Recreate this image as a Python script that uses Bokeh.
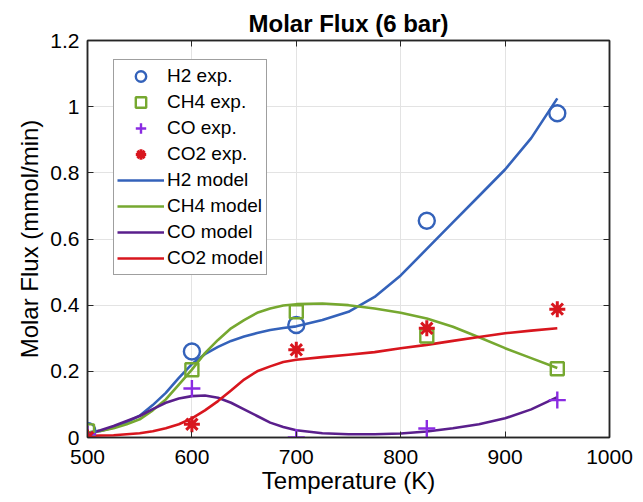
from bokeh.plotting import figure
from bokeh.models import LinearAxis, FixedTicker, CustomJSTickFormatter, Legend, LegendItem, Range1d
from bokeh.embed import file_html
from bokeh.resources import INLINE

# ---- data ----
T_exp = [500, 600, 700, 825, 950]
H2_exp = [0.02, 0.26, 0.34, 0.655, 0.98]
CH4_exp = [0.02, 0.205, 0.38, 0.307, 0.208]
CO_exp = [0.01, 0.148, 0.0, 0.027, 0.113]
CO2_exp = [0.0, 0.04, 0.265, 0.33, 0.388]

T_model = [500, 512.5, 525, 537.5, 550, 562.5, 575, 587.5, 600, 612.5, 625, 637.5, 650, 662.5,
           675, 687.5, 700, 725, 750, 775, 800, 825, 850, 875, 900, 925, 950]
H2_model = [0.015, 0.02, 0.03, 0.046, 0.066, 0.098, 0.135, 0.18, 0.222, 0.252, 0.274, 0.292, 0.305, 0.316,
            0.325, 0.331, 0.336, 0.355, 0.38, 0.425, 0.49, 0.57, 0.65, 0.73, 0.81, 0.905, 1.025]
CH4_model = [0.015, 0.02, 0.028, 0.04, 0.055, 0.082, 0.115, 0.16, 0.205, 0.255, 0.295, 0.33, 0.355, 0.377,
             0.39, 0.399, 0.403, 0.405, 0.4, 0.39, 0.377, 0.36, 0.335, 0.303, 0.27, 0.24, 0.21]
CO_model = [0.01, 0.022, 0.035, 0.05, 0.065, 0.086, 0.105, 0.118, 0.125, 0.127, 0.12, 0.105, 0.085, 0.065,
            0.045, 0.032, 0.022, 0.013, 0.01, 0.01, 0.012, 0.018, 0.028, 0.04, 0.058, 0.085, 0.122]
CO2_model = [0.005, 0.006, 0.007, 0.01, 0.013, 0.019, 0.028, 0.04, 0.058, 0.082, 0.11, 0.142, 0.175, 0.2,
             0.215, 0.228, 0.235, 0.243, 0.25, 0.258, 0.27, 0.28, 0.292, 0.304, 0.315, 0.323, 0.33]

x_ticks = [500, 600, 700, 800, 900, 1000]
y_ticks = [0, 0.2, 0.4, 0.6, 0.8, 1.0, 1.2]

BLUE = "#3462BA"
GREEN = "#76A830"
VIOLET = "#8A2BE2"
PURPLE = "#5A1F8C"
RED = "#D8161E"
FONT = "Liberation Sans"
AXC = "#262626"

p = figure(width=643, height=502, output_backend="svg", toolbar_location=None,
           x_range=Range1d(500, 1000), y_range=Range1d(0, 1.2),
           min_border_left=87, min_border_right=34, min_border_top=40, min_border_bottom=65,
           title="Molar Flux (6 bar)")
p.background_fill_color = "white"
p.border_fill_color = "white"
p.outline_line_color = AXC
p.outline_line_width = 1.5

p.title.align = "center"
p.title.text_font = FONT
p.title.text_font_size = "24px"
p.title.text_font_style = "bold"
p.title.text_color = "black"
p.title.standoff = 8

fmt = CustomJSTickFormatter(code="return String(Math.round(tick*10)/10);")
blank = CustomJSTickFormatter(code="return '';")

for ax in p.xaxis + p.yaxis:
    ax.major_label_text_font = FONT
    ax.major_label_text_font_size = "21px"
    ax.major_label_text_color = "black"
    ax.axis_label_text_font = FONT
    ax.axis_label_text_font_size = "24px"
    ax.axis_label_text_font_style = "normal"
    ax.axis_label_text_color = "black"
    ax.major_tick_in = 6
    ax.major_tick_out = 0
    ax.minor_tick_in = 0
    ax.minor_tick_out = 0
    ax.axis_line_color = AXC
    ax.major_tick_line_color = AXC
    ax.axis_line_width = 1.5

p.xaxis.ticker = FixedTicker(ticks=x_ticks)
p.yaxis.ticker = FixedTicker(ticks=y_ticks)
p.xaxis.formatter = fmt
p.yaxis.formatter = fmt
p.xaxis.axis_label = "Temperature (K)"
p.yaxis.axis_label = "Molar Flux (mmol/min)"
p.xaxis.major_label_standoff = 12
p.yaxis.major_label_standoff = 8
p.xaxis.axis_label_standoff = 0
p.yaxis.axis_label_standoff = 4

for loc, tk in (("above", x_ticks), ("right", y_ticks)):
    ax = LinearAxis(ticker=FixedTicker(ticks=tk), formatter=blank)
    ax.major_label_text_font_size = "2px"
    ax.major_label_standoff = 0
    ax.major_tick_in = 6
    ax.major_tick_out = 0
    ax.minor_tick_in = 0
    ax.minor_tick_out = 0
    ax.axis_line_color = AXC
    ax.major_tick_line_color = AXC
    ax.axis_line_width = 1.5
    p.add_layout(ax, loc)

p.grid.grid_line_color = "#e3e3e3"
p.grid.grid_line_width = 1
p.xgrid.ticker = FixedTicker(ticks=x_ticks)
p.ygrid.ticker = FixedTicker(ticks=y_ticks)

LW = 2.6
r_h2m = p.line(T_model, H2_model, line_color=BLUE, line_width=LW, line_join="round")
r_ch4m = p.line(T_model, CH4_model, line_color=GREEN, line_width=LW, line_join="round")
r_com = p.line(T_model, CO_model, line_color=PURPLE, line_width=LW, line_join="round")
r_co2m = p.line(T_model, CO2_model, line_color=RED, line_width=LW, line_join="round")

r_h2e = p.scatter(T_exp, H2_exp, marker="circle", size=16, fill_color=None, line_color=BLUE, line_width=2.4)
r_ch4e = p.scatter(T_exp, CH4_exp, marker="square", size=13, fill_color=None, line_color=GREEN, line_width=2.4)
r_coe = p.scatter(T_exp, CO_exp, marker="cross", size=17, fill_color=None, line_color=VIOLET, line_width=2.4)
r_co2e = p.scatter(T_exp, CO2_exp, marker="asterisk", size=16, fill_color=None, line_color=RED, line_width=3)

legend = Legend(items=[
    LegendItem(label="H2 exp.", renderers=[r_h2e]),
    LegendItem(label="CH4 exp.", renderers=[r_ch4e]),
    LegendItem(label="CO exp.", renderers=[r_coe]),
    LegendItem(label="CO2 exp.", renderers=[r_co2e]),
    LegendItem(label="H2 model", renderers=[r_h2m]),
    LegendItem(label="CH4 model", renderers=[r_ch4m]),
    LegendItem(label="CO model", renderers=[r_com]),
    LegendItem(label="CO2 model", renderers=[r_co2m]),
])
legend.location = (26, 162)
legend.label_text_font = FONT
legend.label_text_font_size = "19px"
legend.label_text_color = "black"
legend.glyph_width = 47
legend.glyph_height = 26
legend.label_height = 26
legend.spacing = 0
legend.padding = 3
legend.margin = 0
legend.label_standoff = 3
legend.border_line_color = "#404040"
legend.border_line_width = 1.2
legend.background_fill_color = "white"
legend.background_fill_alpha = 1
p.add_layout(legend, "center")

open("out.html", "w").write(file_html(p, INLINE))
